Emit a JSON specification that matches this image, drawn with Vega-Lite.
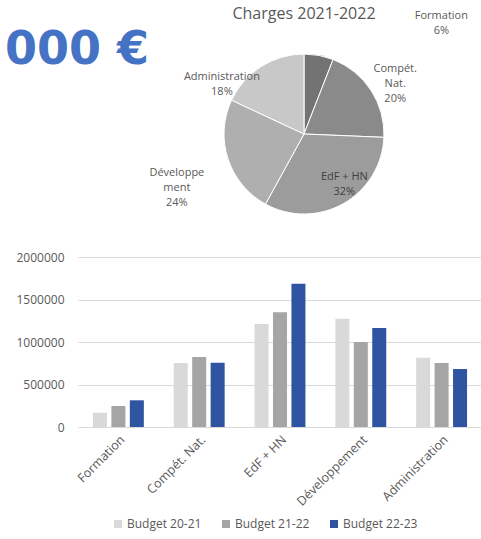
{
  "$schema": "https://vega.github.io/schema/vega-lite/v6.json",
  "padding": {"left": 4, "top": 6, "right": 0, "bottom": 14},
  "background": "white",
  "config": {
    "view": {"stroke": null},
    "font": "Open Sans"
  },
  "resolve": {"scale": {"color": "independent"}, "legend": {"color": "independent"}},
  "datasets": {
    "bars": [
      {"cat": "Formation", "budget": "Budget 20-21", "value": 168000},
      {"cat": "Formation", "budget": "Budget 21-22", "value": 247000},
      {"cat": "Formation", "budget": "Budget 22-23", "value": 314000},
      {"cat": "Compét. Nat.", "budget": "Budget 20-21", "value": 753000},
      {"cat": "Compét. Nat.", "budget": "Budget 21-22", "value": 824000},
      {"cat": "Compét. Nat.", "budget": "Budget 22-23", "value": 757000},
      {"cat": "EdF + HN", "budget": "Budget 20-21", "value": 1212000},
      {"cat": "EdF + HN", "budget": "Budget 21-22", "value": 1349000},
      {"cat": "EdF + HN", "budget": "Budget 22-23", "value": 1686000},
      {"cat": "Développement", "budget": "Budget 20-21", "value": 1275000},
      {"cat": "Développement", "budget": "Budget 21-22", "value": 1000000},
      {"cat": "Développement", "budget": "Budget 22-23", "value": 1165000},
      {"cat": "Administration", "budget": "Budget 20-21", "value": 816000},
      {"cat": "Administration", "budget": "Budget 21-22", "value": 753000},
      {"cat": "Administration", "budget": "Budget 22-23", "value": 682000}
    ],
    "pie": [
      {"cat": "Formation", "order": 1, "value": 247000, "label": "Formation\n6%"},
      {"cat": "Compét. Nat.", "order": 2, "value": 824000, "label": "Compét.\nNat.\n20%"},
      {"cat": "EdF + HN", "order": 3, "value": 1349000, "label": "EdF + HN\n32%"},
      {"cat": "Développement", "order": 4, "value": 1000000, "label": "Développe\nment\n24%"},
      {"cat": "Administration", "order": 5, "value": 753000, "label": "Administration\n18%"}
    ],
    "big": [{"t": "000 €"}]
  },
  "spacing": 35,
  "vconcat": [
    {
      "spacing": 0,
      "hconcat": [
        {
          "width": 71,
          "height": 10,
          "title": {"text": "000 €", "anchor": "end", "frame": "group", "offset": -20, "font": "DejaVu Sans", "fontSize": 46, "fontWeight": "bold", "color": "#4472c4"},
          "data": {"name": "big"},
          "mark": {"type": "point", "opacity": 0},
          "encoding": {}
        },
        {
          "width": 308,
          "height": 160,
          "title": {"text": "Charges 2021-2022", "frame": "group", "offset": -12, "fontSize": 16, "fontWeight": "normal", "color": "#595959"},
          "data": {"name": "pie"},
          "transform": [
            {"window": [{"op": "sum", "field": "value", "as": "cum"}], "sort": [{"field": "order"}], "frame": [null, 0]}
          ],
          "layer": [
            {
              "mark": {"type": "arc", "outerRadius": 80, "stroke": "white", "strokeWidth": 1},
              "encoding": {
                "theta": {"field": "value", "type": "quantitative", "stack": true},
                "order": {"field": "order", "type": "quantitative"},
                "color": {
                  "field": "cat", "type": "nominal",
                  "scale": {"domain": ["Formation", "Compét. Nat.", "EdF + HN", "Développement", "Administration"],
                            "range": ["#737373", "#8a8a8a", "#9c9c9c", "#afafaf", "#c8c8c8"]},
                  "legend": null
                }
              }
            },
            {
              "transform": [{"filter": "datum.cat == 'Formation'"}],
              "mark": {"type": "text", "radius": 181, "thetaOffset": 0.49, "lineBreak": "\n", "lineHeight": 15, "fontSize": 11, "color": "#595959"},
              "encoding": {"theta": {"field": "cum", "type": "quantitative", "stack": null}, "text": {"field": "label"}}
            },
            {
              "transform": [{"filter": "datum.cat == 'Compét. Nat.'"}],
              "mark": {"type": "text", "radius": 112, "thetaOffset": -0.661, "lineBreak": "\n", "lineHeight": 15, "fontSize": 11, "color": "#595959"},
              "encoding": {"theta": {"field": "cum", "type": "quantitative", "stack": null}, "text": {"field": "label"}}
            },
            {
              "transform": [{"filter": "datum.cat == 'EdF + HN'"}],
              "mark": {"type": "text", "radius": 59, "thetaOffset": -1.255, "lineBreak": "\n", "lineHeight": 15, "fontSize": 11, "color": "#404040"},
              "encoding": {"theta": {"field": "cum", "type": "quantitative", "stack": null}, "text": {"field": "label"}}
            },
            {
              "transform": [{"filter": "datum.cat == 'Développement'"}],
              "mark": {"type": "text", "radius": 133, "thetaOffset": -0.735, "lineBreak": "\n", "lineHeight": 15, "fontSize": 11, "color": "#595959"},
              "encoding": {"theta": {"field": "cum", "type": "quantitative", "stack": null}, "text": {"field": "label"}}
            },
            {
              "transform": [{"filter": "datum.cat == 'Administration'"}],
              "mark": {"type": "text", "radius": 100, "thetaOffset": -0.963, "lineBreak": "\n", "lineHeight": 15, "fontSize": 11, "color": "#595959"},
              "encoding": {"theta": {"field": "cum", "type": "quantitative", "stack": null}, "text": {"field": "label"}}
            }
          ]
        }
      ]
    },
    {
      "width": 404,
      "height": 170,
      "data": {"name": "bars"},
      "mark": {"type": "bar"},
      "encoding": {
        "x": {
          "field": "cat", "type": "nominal",
          "sort": ["Formation", "Compét. Nat.", "EdF + HN", "Développement", "Administration"],
          "scale": {"paddingInner": 0.37, "paddingOuter": 0.185},
          "axis": {"title": null, "labelAngle": -45, "domain": false, "ticks": false, "labelColor": "#595959", "labelFontSize": 12.5, "labelPadding": 6}
        },
        "xOffset": {
          "field": "budget", "type": "nominal",
          "scale": {"paddingInner": 0.24}
        },
        "y": {
          "field": "value", "type": "quantitative",
          "scale": {"domain": [0, 2000000]},
          "axis": {"title": null, "tickCount": 4, "format": "d", "domain": false, "ticks": false, "gridColor": "#d9d9d9", "labelColor": "#595959", "labelFontSize": 12, "labelPadding": 14}
        },
        "color": {
          "field": "budget", "type": "nominal",
          "scale": {"domain": ["Budget 20-21", "Budget 21-22", "Budget 22-23"], "range": ["#d9d9d9", "#a5a5a5", "#2f55a2"]},
          "legend": {"title": null, "orient": "none", "legendX": 34, "legendY": 261, "direction": "horizontal", "symbolType": "square", "symbolSize": 64, "symbolStrokeWidth": 0, "labelFontSize": 12, "labelColor": "#595959", "labelOffset": 3, "columnPadding": 18}
        }
      }
    }
  ]
}
